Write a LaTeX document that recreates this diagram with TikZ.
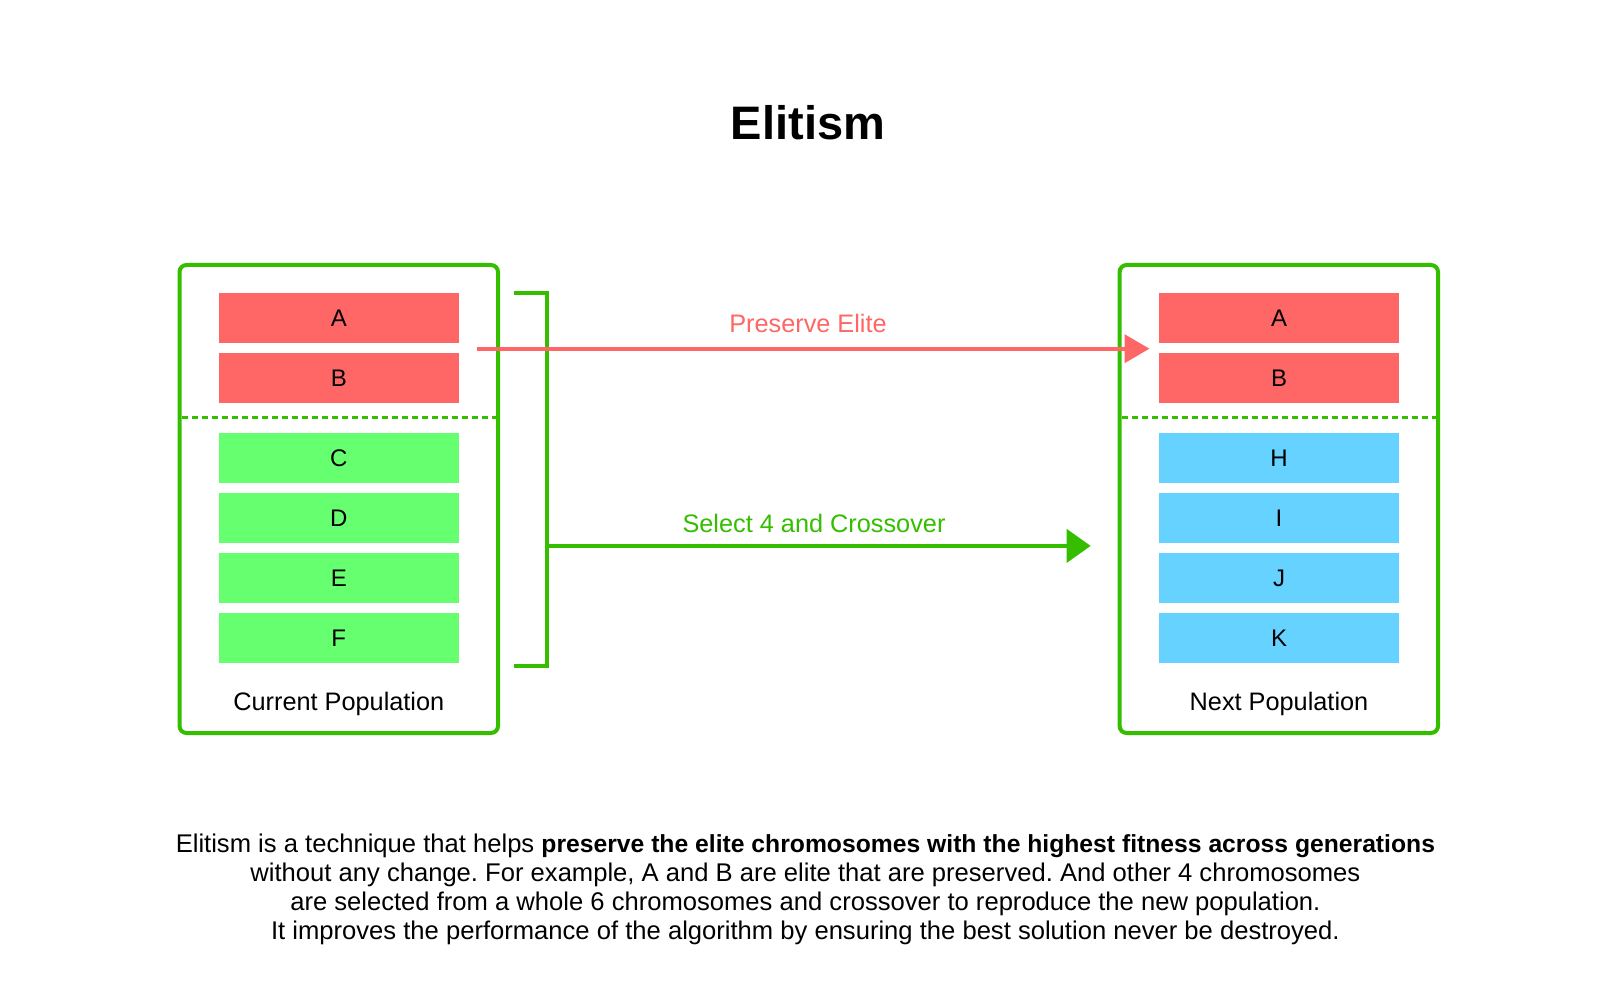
\documentclass[tikz,border=0pt]{standalone}
\usepackage{fontspec}
\setmainfont{Liberation Sans}
\usetikzlibrary{arrows.meta}
\definecolor{frame}{HTML}{35BE00}
\definecolor{elite}{HTML}{FF6666}
\definecolor{chromo}{HTML}{66FF70}
\definecolor{child}{HTML}{66D2FF}
\begin{document}
\frenchspacing
\begin{tikzpicture}[x=1pt,y=-1pt,
  bar/.style={minimum width=240pt,minimum height=49.5pt,inner sep=0pt,
    font=\fontsize{24}{28}\selectfont},
  popbox/.style={draw=frame,line width=4pt,rounded corners=7pt},
  sepline/.style={draw=frame,line width=3pt,dash pattern=on 6pt off 4pt},
  lbl/.style={anchor=base,inner sep=0pt,font=\fontsize{25.3}{28}\selectfont},
  body/.style={anchor=base,inner sep=0pt,font=\fontsize{25.6}{28}\selectfont}]
\useasboundingbox (0,0) rectangle (1618,1000);
\fill[white] (0,0) rectangle (1618,1000);
% title
\node[anchor=base,inner sep=0pt,font=\fontsize{47}{52}\selectfont\bfseries] (title) at (808,139.3) {Elitism};
% boxes
\draw[popbox] (179.5,265) rectangle (498,733);
\draw[popbox] (1119.6,265) rectangle (1438,733);
\draw[sepline] (181.5,417.3) -- (496,417.3);
\draw[sepline] (1121.6,417.3) -- (1436,417.3);
% left bars
\node[bar,fill=elite]  (lA) at (338.8,318) {A};
\node[bar,fill=elite]  (lB) at (338.8,378) {B};
\node[bar,fill=chromo] (lC) at (338.8,458) {C};
\node[bar,fill=chromo] (lD) at (338.8,518) {D};
\node[bar,fill=chromo] (lE) at (338.8,578) {E};
\node[bar,fill=chromo] (lF) at (338.8,638) {F};
% right bars
\node[bar,fill=elite] (rA) at (1279,318) {A};
\node[bar,fill=elite] (rB) at (1279,378) {B};
\node[bar,fill=child] (rH) at (1279,458) {H};
\node[bar,fill=child] (rI) at (1279,518) {I};
\node[bar,fill=child] (rJ) at (1279,578) {J};
\node[bar,fill=child] (rK) at (1279,638) {K};
% captions
\node[lbl] (cur) at (338.8,710) {Current Population};
\node[lbl] (nxt) at (1279,710) {Next Population};
% bracket
\coordinate (brT) at (514,293);
\coordinate (brB) at (514,665.6);
\draw[frame,line width=4pt] (brT) -- (547,293) -- (547,665.6) -- (brB);
% arrows
\coordinate (eS) at (476.7,348.7);
\coordinate (eE) at (1149.5,348.7);
\draw[elite,line width=4pt,-{Triangle[length=25pt,width=28pt]}] (eS) -- (eE);
\node[lbl,text=elite] (pe) at (808,332.5) {Preserve Elite};
\coordinate (sS) at (547,545.9);
\coordinate (sE) at (1090.7,545.9);
\draw[frame,line width=4pt,-{Triangle[length=24pt,width=33pt]}] (sS) -- (sE);
\node[lbl,text=frame] (sc) at (814,532.5) {Select 4 and Crossover};
% body text
\node[body] (t1) at (805.4,852) {Elitism is a technique that helps {\fontsize{24.7}{28}\selectfont\bfseries preserve the elite chromosomes with the highest fitness across generations}};
\node[body] (t2) at (805.4,881) {without any change. For example, A and B are elite that are preserved. And other 4 chromosomes};
\node[body] (t3) at (805.4,910) {are selected from a whole 6 chromosomes and crossover to reproduce the new population.};
\node[body] (t4) at (805.4,939) {It improves the performance of the algorithm by ensuring the best solution never be destroyed.};
\end{tikzpicture}
\end{document}
